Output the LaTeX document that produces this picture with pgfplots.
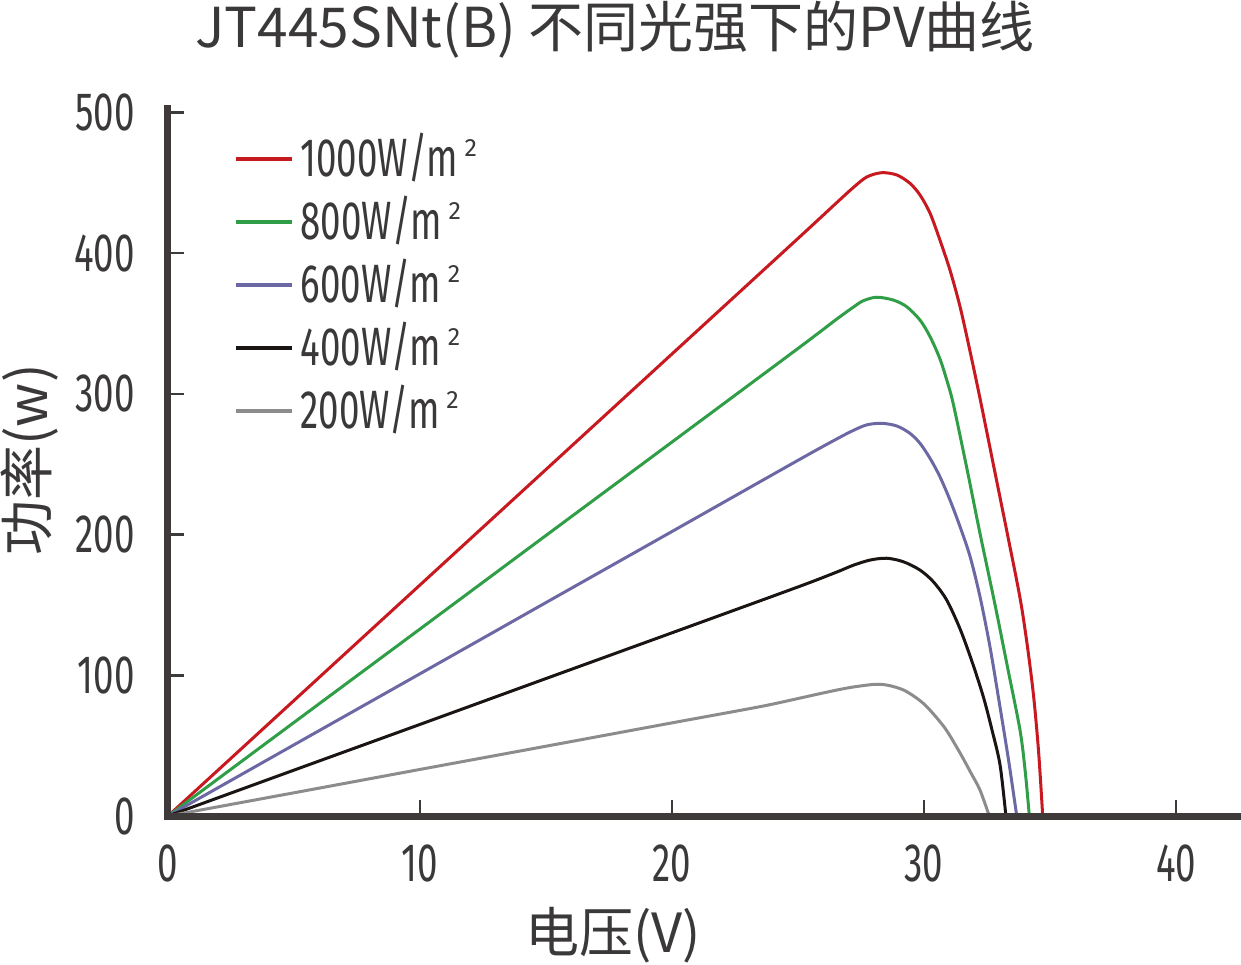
\documentclass[border=0pt]{standalone}
\usepackage{pgfplots}
\pgfplotsset{compat=1.18}
\usepackage{fontspec}
\setmainfont{Fira Sans}
\newfontfamily\cjk{Noto Sans CJK SC}
\newfontfamily\tickfont[FakeStretch=0.68]{Fira Sans}
\definecolor{axcol}{RGB}{62,58,57}
\definecolor{textcol}{RGB}{58,56,56}
\definecolor{cred}{RGB}{200,24,32}
\definecolor{cgreen}{RGB}{48,158,70}
\definecolor{cpurple}{RGB}{108,104,164}
\definecolor{cblack}{RGB}{26,20,18}
\definecolor{cgray}{RGB}{140,140,140}
\newcommand{\tf}{\tickfont\fontsize{54pt}{54pt}\selectfont}
\newcommand{\sq}{\hspace{7pt}\raisebox{20pt}{\rmfamily\fontsize{25pt}{25pt}\selectfont 2}}
\begin{document}
\begin{tikzpicture}
\useasboundingbox (-168pt,-148pt) rectangle (1073pt,816pt);
\begin{axis}[
  at={(0pt,0pt)}, anchor=south west,
  x=25.2pt, y=1.407pt,
  xmin=0, xmax=42.6, ymin=0, ymax=503,
  axis x line=bottom, axis y line=left,
  every outer x axis line/.append style={-},
  every outer y axis line/.append style={-},
  axis line style={-, line width=7pt, color=axcol, line cap=rect},
  axis on top,
  clip=false,
  xtick={0,10,20,30,40},
  ytick={0,100,200,300,400,500},
  scaled ticks=false,
  tick align=inside,
  major tick length=16pt,
  tick style={line width=2.5pt, color=axcol},
  /pgf/number format/assume math mode=true,
  ticklabel style={font=\tf, text=textcol, inner sep=0pt},
  yticklabel style={xshift=-33pt},
  xticklabel style={yshift=-29pt},
  legend style={at={(0.0615,0.9538)}, anchor=north west, draw=none, fill=none,
    inner sep=0pt, outer sep=0pt, row sep=27pt, column sep=7pt,
    font=\tf, text=textcol,
    nodes={inner sep=0pt, text height=36pt, text depth=0pt}},
  legend cell align=left,
  legend image code/.code={\draw[#1, line width=3.5pt] (0pt,0pt) -- (56pt,0pt); \path[draw=none,fill=none] (0pt,-18pt) rectangle (56pt,18pt);},
]
\addplot[cred, line width=3pt, smooth] coordinates {
(0,0)(5,82.1)(10,164.2)(15,246.3)(20,328.4)(25,410.5)(26.54,436.0)(27.19,446.6)(27.73,454.2)(28.32,457.2)(28.92,455.6)(29.44,449.7)(29.84,441.4)(30.24,428.4)(30.63,409.4)(31.03,388)(31.43,362)(31.83,330)(32.22,297)(32.75,250)(33.28,203)(33.81,155)(34.1,121)(34.35,85)(34.55,45)(34.71,0)};
\addlegendentry{1000W/m\sq}
\addplot[cgreen, line width=3pt, smooth] coordinates {
(0,0)(5,66.5)(10,132.9)(15,199.4)(20,265.8)(25,332.3)(26.54,353.2)(27.19,361.6)(27.59,366.2)(28.12,368.7)(28.78,366.7)(29.31,362.0)(29.84,352.5)(30.24,340.7)(30.63,325)(30.9,310)(31.16,293)(31.69,248)(32.22,201)(32.82,150)(33.3,107)(33.81,61)(34.02,31)(34.18,0)};
\addlegendentry{800W/m\sq}
\addplot[cpurple, line width=3pt, smooth] coordinates {
(0,0)(5,50.6)(10,101.1)(15,151.7)(20,202.2)(25,252.8)(26.54,268.0)(27.19,274.0)(27.73,278.0)(28.32,279.1)(28.92,277.2)(29.44,272.0)(29.84,264.9)(30.24,254.2)(30.63,241.2)(31.03,224.6)(31.43,205.6)(31.83,184.3)(32.22,156)(32.62,120)(33.02,77)(33.37,38)(33.68,0)};
\addlegendentry{600W/m\sq}
\addplot[cblack, line width=3pt, smooth] coordinates {
(0,0)(5,32.6)(10,65.1)(15,97.7)(20,130.2)(25,162.8)(26.54,173.4)(27.19,178.2)(27.86,181.9)(28.52,183.2)(29.18,180.7)(29.84,174.8)(30.37,166.5)(30.9,153.5)(31.43,133)(31.9,110)(32.35,85)(32.7,61)(33.02,36)(33.25,0)};
\addlegendentry{400W/m\sq}
\addplot[cgray, line width=3pt, smooth] coordinates {
(0,0)(5,16.5)(10,33.1)(15,49.6)(20,66.2)(23.49,77.7)(25,83.5)(26.14,88.0)(27.06,91.3)(28.06,93.6)(28.6,92.8)(29.18,89.6)(29.65,84.5)(30.11,77.7)(30.83,62.5)(31.43,44.8)(31.85,31)(32.22,18.5)(32.59,0)};
\addlegendentry{200W/m\sq}
\end{axis}
\node[font=\cjk\fontsize{55pt}{55pt}\selectfont, text=textcol] at (447pt,786pt) {JT445SNt(B) 不同光强下的PV曲线};
\node[font=\cjk\fontsize{54pt}{54pt}\selectfont, text=textcol] at (445pt,-119pt) {电压(V)};
\node[font=\cjk\fontsize{55pt}{55pt}\selectfont, text=textcol, rotate=90] at (-138pt,356pt) {功率(w)};
\end{tikzpicture}
\end{document}
